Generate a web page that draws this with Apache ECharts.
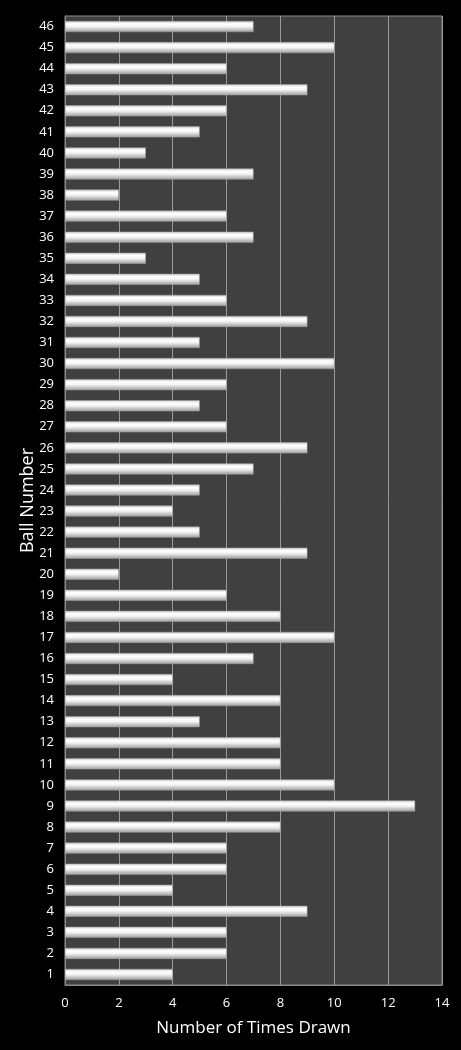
<!DOCTYPE html>
<html>
<head>
<meta charset="utf-8">
<script src="https://cdn.jsdelivr.net/npm/echarts@6/dist/echarts.min.js"></script>
<style>
  html, body { margin: 0; padding: 0; background: #000; }
  #chart { width: 461px; height: 1050px; }
</style>
</head>
<body>
<div id="chart"></div>
<script>
// ball numbers 1..46
const balls = ['1','2','3','4','5','6','7','8','9','10','11','12','13','14','15','16','17','18','19','20','21','22','23','24','25','26','27','28','29','30','31','32','33','34','35','36','37','38','39','40','41','42','43','44','45','46']
const timesDrawn = [4, 6, 6, 9, 4, 6, 6, 8, 13, 10, 8, 8, 5, 8, 4, 7, 10, 8, 6, 2, 9, 5, 4, 5, 7, 9, 6, 5, 6, 10, 5, 9, 6, 5, 3, 7, 6, 2, 7, 3, 5, 6, 9, 6, 10, 7]
const xTicks = [0, 2, 4, 6, 8, 10, 12, 14]

const chart = echarts.init(document.getElementById('chart'))
const font = '"Open Sans", "DejaVu Sans", sans-serif'
const option = {
  backgroundColor: '#000000',
  animation: false,
  grid: {
    left: 65,
    right: 19,
    top: 16,
    bottom: 65,
    show: true,
    backgroundColor: '#404040',
    borderColor: '#8a8a8a',
    borderWidth: 1
  },
  xAxis: {
    type: 'value',
    min: xTicks[0],
    max: xTicks[xTicks.length - 1],
    interval: 2,
    name: 'Number of Times Drawn',
    nameLocation: 'middle',
    nameGap: 35,
    nameTextStyle: { color: '#ffffff', fontSize: 17, fontFamily: font },
    axisLine: { show: true, lineStyle: { color: '#8a8a8a' } },
    axisTick: { show: false },
    axisLabel: { color: '#ffffff', fontSize: 13, fontFamily: font, margin: 12 },
    splitLine: { show: true, lineStyle: { color: '#9a9a9a', width: 1 } }
  },
  yAxis: {
    type: 'category',
    data: balls,
    name: 'Ball Number',
    nameLocation: 'middle',
    nameGap: 28,
    nameMoveOverlap: false,
    nameTextStyle: { color: '#ffffff', fontSize: 18, fontFamily: font },
    axisLine: { show: true, lineStyle: { color: '#8a8a8a' } },
    axisTick: { show: false },
    axisLabel: { color: '#ffffff', fontSize: 13, fontFamily: font, margin: 11, interval: 0 },
    splitLine: { show: false }
  },
  series: [
    {
      type: 'bar',
      data: timesDrawn,
      barWidth: 11,
      itemStyle: {
        color: new echarts.graphic.LinearGradient(0, 0, 0, 1, [
          { offset: 0, color: '#c8c8c8' },
          { offset: 0.25, color: '#ffffff' },
          { offset: 0.5, color: '#f4f4f4' },
          { offset: 1, color: '#9c9c9c' }
        ]),
        borderColor: '#a8a8a8',
        borderWidth: 0.5
      }
    }
  ]
}
chart.setOption(option)
</script>
</body>
</html>
